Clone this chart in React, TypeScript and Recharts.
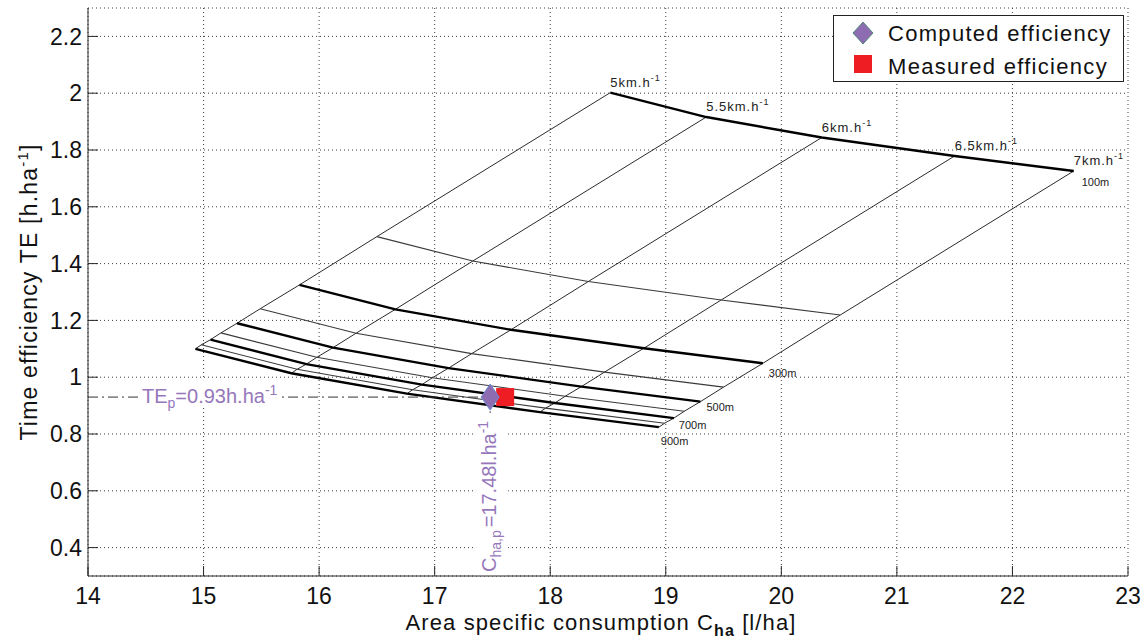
import React from "react";
import {
  ComposedChart,
  Line,
  Scatter,
  XAxis,
  YAxis,
  CartesianGrid,
  ReferenceLine,
  Legend,
  LabelList,
} from "recharts";

const FONT = '"Liberation Sans", Arial, Helvetica, sans-serif';
const PURPLE = "#8e6cb2";
const PURPLE_TEXT = "#9677bb";
const RED = "#ee1d23";

// field lengths [m] and driving speeds [km/h]
const fieldLengths = [100, 200, 300, 400, 500, 600, 700, 800, 900];
const speeds = [5, 5.5, 6, 6.5, 7];

// area specific consumption C_ha [l/ha], one list per speed, along fieldLengths
const cha5 = [18.52, 16.5, 15.83, 15.49, 15.29, 15.15, 15.06, 14.98, 14.93];
const cha55 = [19.35, 17.33, 16.66, 16.32, 16.12, 15.98, 15.89, 15.81, 15.76];
const cha6 = [20.35, 18.33, 17.66, 17.32, 17.12, 16.98, 16.89, 16.81, 16.76];
const cha65 = [21.5, 19.48, 18.81, 18.47, 18.27, 18.13, 18.04, 17.96, 17.91];
const cha7 = [22.53, 20.51, 19.84, 19.5, 19.3, 19.16, 19.07, 18.99, 18.94];

// time efficiency TE [h/ha]
const te5 = [2.002, 1.495, 1.325, 1.241, 1.19, 1.156, 1.132, 1.114, 1.1];
const te55 = [1.916, 1.409, 1.239, 1.155, 1.104, 1.07, 1.046, 1.028, 1.014];
const te6 = [1.844, 1.337, 1.167, 1.083, 1.032, 0.998, 0.974, 0.956, 0.942];
const te65 = [1.779, 1.272, 1.102, 1.018, 0.967, 0.933, 0.909, 0.891, 0.877];
const te7 = [1.726, 1.219, 1.049, 0.965, 0.914, 0.88, 0.856, 0.838, 0.824];

const computedCha = 17.48;
const computedTe = 0.93;
const measuredCha = 17.61;
const measuredTe = 0.93;

const xTicks = [14, 15, 16, 17, 18, 19, 20, 21, 22, 23];
const yTicks = [0.4, 0.6, 0.8, 1, 1.2, 1.4, 1.6, 1.8, 2, 2.2];
const xDomain = [14, 23];
const yDomain = [0.3, 2.3];
const legendOrder = ["Computed efficiency", "Measured efficiency"];

// label nudges (px) for the field length tags at the 7 km/h end
const lengthLabelNudge: Record<number, [number, number]> = {
  100: [8, 15],
  300: [6, 14],
  500: [6, 9],
  700: [5, 11],
  900: [2, 18],
};

const chaBySpeed = [cha5, cha55, cha6, cha65, cha7];
const teBySpeed = [te5, te55, te6, te65, te7];

const speedLines = speeds.map((speed, i) =>
  fieldLengths.map((length, j) => ({ x: chaBySpeed[i][j], y: teBySpeed[i][j], speed, length }))
);
const lengthLines = fieldLengths.map((length, j) =>
  speeds.map((speed, i) => ({ x: chaBySpeed[i][j], y: teBySpeed[i][j], speed, length }))
);

function pointOf(props: any) {
  const vb = props.viewBox || {};
  return { x: Number(props.x ?? vb.x), y: Number(props.y ?? vb.y) };
}

const SpeedLabel = (props: any) => {
  const { x, y } = pointOf(props);
  return (
    <text x={x} y={y - 6} fontSize={13} letterSpacing={1} fill="#222" fontFamily={FONT}>
      {`${props.value}km.h`}
      <tspan dy={-6} fontSize={9}>-1</tspan>
    </text>
  );
};

const LengthLabel = (props: any) => {
  const nudge = lengthLabelNudge[props.value];
  if (!nudge) return null;
  const { x, y } = pointOf(props);
  return (
    <text x={x + nudge[0]} y={y + nudge[1]} fontSize={11} fill="#222" fontFamily={FONT}>
      {`${props.value}m`}
    </text>
  );
};

const TeLabel = (props: any) => {
  const { x, y } = props.viewBox;
  return (
    <g>
      <rect x={x + 51} y={y - 17} width={143} height={27} fill="#fff" />
      <text x={x + 54} y={y + 6} fontSize={20} fill={PURPLE_TEXT} fontFamily={FONT}>
        TE
        <tspan dy={5} fontSize={14}>p</tspan>
        <tspan dy={-5}>{`=${computedTe.toFixed(2)}h.ha`}</tspan>
        <tspan dy={-8} fontSize={14}>-1</tspan>
      </text>
    </g>
  );
};

const ChaLabel = (props: any) => {
  const { x, y, height } = props.viewBox;
  const bx = x + 6;
  const by = y + height - 4;
  return (
    <g>
      <rect x={x - 14} y={y + 19} width={32} height={height - 19} fill="#fff" />
      <text
        x={bx}
        y={by}
        fontSize={20}
        fill={PURPLE_TEXT}
        fontFamily={FONT}
        transform={`rotate(-90 ${bx} ${by})`}
      >
        C
        <tspan dy={5} fontSize={14}>ha,p</tspan>
        <tspan dy={-5} dx={3}>{`=${computedCha}l.ha`}</tspan>
        <tspan dy={-8} fontSize={14}>-1</tspan>
      </text>
    </g>
  );
};

const YTitle = (props: any) => {
  const { x, y, height } = props.viewBox;
  const cx = x + 9;
  const cy = y + height / 2;
  return (
    <text
      x={cx}
      y={cy}
      textAnchor="middle"
      fontSize={23}
      letterSpacing={1.2}
      fill="#111"
      fontFamily={FONT}
      transform={`rotate(-90 ${cx} ${cy})`}
    >
      Time efficiency TE [h.ha
      <tspan dy={-9} fontSize={15}>-1</tspan>
      <tspan dy={9}>]</tspan>
    </text>
  );
};

const XTitle = (props: any) => {
  const { x, y, width } = props.viewBox;
  return (
    <text
      x={x + width / 2 - 7}
      y={y + 54}
      textAnchor="middle"
      fontSize={22}
      letterSpacing={1.1}
      fill="#111"
      fontFamily={FONT}
    >
      Area specific consumption C
      <tspan dy={6} fontSize={16} fontWeight="bold">ha</tspan>
      <tspan dy={-6}> [l/ha]</tspan>
    </text>
  );
};

const DiamondShape = (props: any) => {
  const { cx, cy } = props;
  return (
    <polygon
      points={`${cx},${cy - 13} ${cx + 9},${cy} ${cx},${cy + 13} ${cx - 9},${cy}`}
      fill={PURPLE}
      stroke="#6a8ad0"
      strokeWidth={1}
    />
  );
};

const SquareShape = (props: any) => {
  const { cx, cy } = props;
  return <rect x={cx - 9} y={cy - 9} width={18} height={18} fill={RED} />;
};

const renderLegend = (props: any) => {
  const items = props.payload || [];
  const sorted = legendOrder.map((n) => items.find((p: any) => p.value === n)).filter(Boolean);
  return (
    <svg width={292} height={68} style={{ display: "block" }}>
      <rect x={0.5} y={0.5} width={290} height={66} fill="#fff" stroke="#222" />
      {sorted.map((entry: any, k: number) => {
        const cy = 18 + k * 31;
        return (
          <g key={entry.value}>
            {entry.type === "diamond" ? (
              <polygon
                points={`30,${cy - 11} 40,${cy} 30,${cy + 11} 20,${cy}`}
                fill={PURPLE}
                stroke="#4f8a78"
                strokeWidth={1}
              />
            ) : (
              <rect x={21} y={cy - 9} width={18} height={18} fill={RED} />
            )}
            <text x={55} y={cy + 8 + k * 2} fontSize={22} letterSpacing={1.3} fill="#111" fontFamily={FONT}>
              {entry.value}
            </text>
          </g>
        );
      })}
    </svg>
  );
};

export default function App() {
  return (
    <div style={{ position: "absolute", left: 0, top: 0, background: "#fff" }}>
      <ComposedChart
        width={1147}
        height={642}
        margin={{ top: 8, right: 19, bottom: 36, left: 28 }}
        style={{ fontFamily: FONT }}
      >
        <CartesianGrid stroke="#3c3c3c" strokeDasharray="1 3" />
        <XAxis
          type="number"
          dataKey="x"
          domain={xDomain}
          ticks={xTicks}
          interval={0}
          allowDataOverflow
          height={30}
          tickSize={-10}
          tickMargin={22}
          tick={{ fontSize: 23, fill: "#111", fontFamily: FONT }}
          axisLine={{ stroke: "#262626" }}
          tickLine={{ stroke: "#262626" }}
          label={XTitle}
        />
        <YAxis
          type="number"
          dataKey="y"
          domain={yDomain}
          ticks={yTicks}
          interval={0}
          allowDataOverflow
          width={60}
          tickSize={-10}
          tickMargin={16}
          tick={{ fontSize: 23, fill: "#111", fontFamily: FONT }}
          axisLine={{ stroke: "#262626" }}
          tickLine={{ stroke: "#262626" }}
          label={YTitle}
        />
        {speedLines.map((pts, i) => (
          <Line
            key={`speed-${speeds[i]}`}
            data={pts}
            dataKey="y"
            type="linear"
            stroke="#2b2b2b"
            strokeWidth={1}
            dot={false}
            activeDot={false}
            legendType="none"
            isAnimationActive={false}
          >
            {i === speeds.length - 1 && <LabelList dataKey="length" content={LengthLabel} />}
          </Line>
        ))}
        {lengthLines.map((pts, j) => {
          const major = j % 2 === 0;
          return (
            <Line
              key={`len-${fieldLengths[j]}`}
              data={pts}
              dataKey="y"
              type="linear"
              stroke={major ? "#000" : "#3a3a3a"}
              strokeWidth={major ? 2.4 : 1.1}
              dot={false}
              activeDot={false}
              legendType="none"
              isAnimationActive={false}
            >
              {j === 0 && <LabelList dataKey="speed" content={SpeedLabel} />}
            </Line>
          );
        })}
        <ReferenceLine
          segment={[
            { x: xDomain[0], y: computedTe },
            { x: computedCha, y: computedTe },
          ]}
          stroke="#333"
          strokeDasharray="10 4 2 4"
          ifOverflow="visible"
          label={TeLabel}
        />
        <ReferenceLine
          segment={[
            { x: computedCha, y: computedTe },
            { x: computedCha, y: yDomain[0] },
          ]}
          stroke="#555"
          strokeDasharray="10 4 2 4"
          ifOverflow="visible"
          label={ChaLabel}
        />
        <Scatter
          name="Measured efficiency"
          data={[{ x: measuredCha, y: measuredTe }]}
          fill={RED}
          shape={SquareShape}
          legendType="square"
          isAnimationActive={false}
        />
        <Scatter
          name="Computed efficiency"
          data={[{ x: computedCha, y: computedTe }]}
          fill={PURPLE}
          shape={DiamondShape}
          legendType="diamond"
          isAnimationActive={false}
        />
        <Legend
          content={renderLegend}
          layout="vertical"
          align="center"
          verticalAlign="middle"
          wrapperStyle={{ left: 833, top: 15, width: 292, height: 68 }}
        />
      </ComposedChart>
    </div>
  );
}
